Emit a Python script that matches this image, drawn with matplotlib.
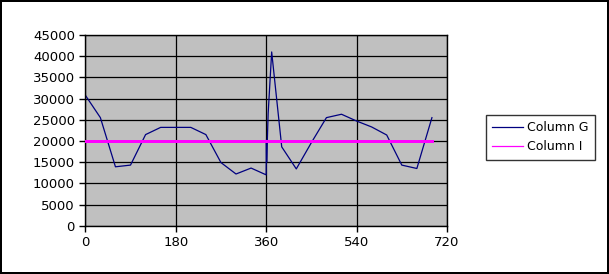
import matplotlib.pyplot as plt

# values
x_vals = [0, 30, 60, 90, 120, 150, 180, 210, 240, 270, 300, 330, 360,
          360.5, 361, 364, 371, 391, 420, 450, 480, 510, 540, 570, 600,
          630, 660, 690]
col_g = [30800, 25500, 13900, 14300, 21500, 23200, 23200, 23200, 21500,
         14900, 12200, 13600, 12000, 20200, 15000, 26500, 41000, 18600,
         13400, 19600, 25500, 26300, 24700, 23300, 21400, 14300, 13500,
         25500]
col_i = [20000] * len(x_vals)

x_ticks = [0, 180, 360, 540, 720]
y_ticks = list(range(0, 45001, 5000))

fig = plt.figure(figsize=(6.09, 2.74), dpi=100, linewidth=1.5, edgecolor='black')
ax = fig.add_axes([85.3 / 609, (274 - 225.7) / 274, (447 - 85.3) / 609, 190.7 / 274])
ax.set_facecolor('#c0c0c0')

ax.plot(x_vals, col_g, color='#000080', linewidth=0.9, label='Column G')
ax.plot(x_vals, col_i, color='#ff00ff', linewidth=0.9, antialiased=False,
        zorder=3, label='Column I')

ax.set_xlim(0, 720)
ax.set_ylim(0, 45000)
ax.set_xticks(x_ticks)
ax.set_yticks(y_ticks)
ax.grid(True, color='black', linewidth=0.9)
ax.set_axisbelow(True)
ax.tick_params(direction='out', length=4, width=1, labelsize=9.5, colors='black')
for s in ax.spines.values():
    s.set_color('black')
    s.set_linewidth(1)

leg = fig.legend(loc='upper left', bbox_to_anchor=(485.7 / 609, 1 - 115 / 274),
                 fontsize=9, frameon=True, fancybox=False, handlelength=2.5,
                 handletextpad=0.3, borderpad=0.5, labelspacing=0.5,
                 borderaxespad=0)
leg.get_frame().set_edgecolor('black')
leg.get_frame().set_linewidth(1)

plt.savefig('out.png', dpi=100)
